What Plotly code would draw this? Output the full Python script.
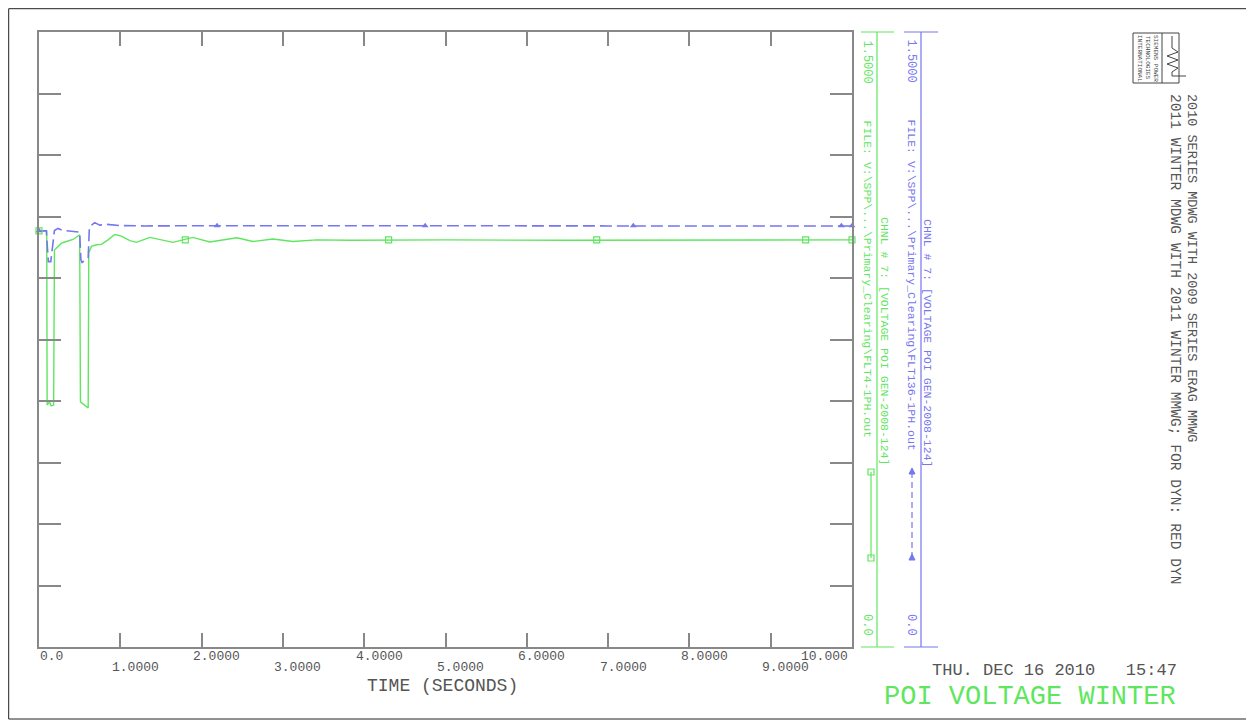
import plotly.graph_objects as go

# ---------------- data ----------------
time_flt4 = [0, 0.095, 0.100, 0.13, 0.15, 0.18, 0.19, 0.214, 0.276, 0.337, 0.419, 0.500, 0.505,
             0.510, 0.56, 0.605, 0.612, 0.645, 0.707, 0.768, 0.849, 0.932, 1.014, 1.117, 1.199,
             1.301, 1.363, 1.649, 1.769, 1.892, 2.101, 2.261, 2.434, 2.631, 2.877, 3.123, 3.418,
             3.824, 5.0, 6.5, 8.0, 10.0]
volt_flt4 = [1.015, 1.015, 0.590, 0.598, 0.588, 0.590, 0.968, 0.9725, 0.985, 0.989, 0.994, 1.005, 0.80,
             0.598, 0.590, 0.583, 0.961, 0.977, 0.981, 0.982, 0.993, 1.006, 1.002, 0.991, 0.987,
             0.994, 0.999, 0.987, 0.993, 0.999, 0.988, 0.993, 0.998, 0.989, 0.995, 0.989, 0.993,
             0.992, 0.993, 0.992, 0.993, 0.993]

time_flt136 = [0, 0.09, 0.115, 0.145, 0.19, 0.234, 0.295, 0.419, 0.500, 0.515, 0.53, 0.58, 0.605,
               0.62, 0.686, 0.747, 0.83, 0.99, 1.3, 2.0, 3.0, 5.0, 7.0, 10.0]
volt_flt136 = [1.015, 1.015, 0.940, 0.940, 1.016, 1.021, 1.016, 1.013, 1.012, 0.945, 0.938, 0.945, 0.950,
               1.025, 1.035, 1.029, 1.031, 1.028, 1.027, 1.0275, 1.027, 1.0275, 1.027, 1.027]

marker_t_flt4 = [0, 1.80, 4.30, 6.86, 9.43, 10.0]
marker_v_flt4 = [1.015, 0.993, 0.993, 0.993, 0.993, 0.993]
marker_t_flt136 = [0, 2.19, 4.75, 7.31, 9.87, 10.0]
marker_v_flt136 = [1.015, 1.0275, 1.0275, 1.0275, 1.0275, 1.0275]

x_tick_vals = [0, 1, 2, 3, 4, 5, 6, 7, 8, 9, 10]
x_tick_labels = ["0.0", "1.0000", "2.0000", "3.0000", "4.0000", "5.0000",
                 "6.0000", "7.0000", "8.0000", "9.0000", "10.000"]
y_tick_vals = [0, 0.15, 0.3, 0.45, 0.6, 0.75, 0.9, 1.05, 1.2, 1.35, 1.5]

file_flt4 = "FILE: V:\\SPP\\...\\Primary_Clearing\\FLT4-1PH.out"
file_flt136 = "FILE: V:\\SPP\\...\\Primary_Clearing\\FLT136-1PH.out"
chnl_label = "CHNL # 7: [VOLTAGE POI GEN-2008-124]"
axis_max_label = "1.5000"
axis_min_label = "0.0"
title_line1 = "2010 SERIES MDWG WITH 2009 SERIES ERAG MMWG"
title_line2 = "2011 WINTER MDWG WITH 2011 WINTER MMWG; FOR DYN: RED DYN"
logo_lines = ["SIEMENS POWER", "TECHNOLOGIES", "INTERNATIONAL"]
date_text = "THU. DEC 16 2010\u00a0\u00a0\u00a015:47"
plot_title = "POI VOLTAGE WINTER"
x_title = "TIME (SECONDS)"

# ---------------- style ----------------
GREEN = "#5fe65f"
BLUE = "#7676ee"
GRAY = "#888888"
TXT = "#555555"
FONT = "Liberation Mono"

OFF = 8                      # page body margin of the html page
W, H = 1254 - OFF, 724 - OFF
L, R, T, B = 39, 852, 32, 647   # plot area in screen pixels


def X(px):
    return (px - L) / (R - L)


def Y(py):
    return (B - py) / (B - T)


fig = go.Figure()

fig.add_trace(go.Scatter(x=time_flt4, y=volt_flt4, mode="lines",
                         line=dict(color=GREEN, width=1.4), showlegend=False))
fig.add_trace(go.Scatter(x=time_flt136, y=volt_flt136, mode="lines",
                         line=dict(color=BLUE, width=1.6, dash="12px,5px"), showlegend=False))
fig.add_trace(go.Scatter(x=marker_t_flt4, y=marker_v_flt4, mode="markers", cliponaxis=False,
                         marker=dict(symbol="square-open", size=6, color=GREEN, line=dict(width=1.2)),
                         showlegend=False))
fig.add_trace(go.Scatter(x=marker_t_flt136, y=marker_v_flt136, mode="markers", cliponaxis=False,
                         marker=dict(symbol="triangle-up", size=6, color=BLUE), showlegend=False))

shapes = []


def line(x0, y0, x1, y1, color, width=1.2, dash=None):
    d = dict(type="line", xref="paper", yref="paper", x0=X(x0), y0=Y(y0), x1=X(x1), y1=Y(y1),
             line=dict(color=color, width=width))
    if dash:
        d["line"]["dash"] = dash
    shapes.append(d)


# outer page frame
shapes.append(dict(type="rect", xref="paper", yref="paper", x0=X(8.7), y0=Y(8.7), x1=X(1249), y1=Y(719),
                   line=dict(color="#222222", width=1)))

# green secondary axis
line(877, T, 877, B, GREEN)
line(861, T, 894, T, GREEN)
line(861, B, 894, B, GREEN)
# blue secondary axis
line(921, T, 921, B, BLUE)
line(904, T, 938, T, BLUE)
line(904, B, 938, B, BLUE)

# legend samples
line(871, 472, 871, 558, GREEN)
for yy in (472, 558):
    shapes.append(dict(type="rect", xref="paper", yref="paper", x0=X(868), x1=X(874),
                       y0=Y(yy - 3), y1=Y(yy + 3), line=dict(color=GREEN, width=1.2)))
line(912, 472, 912, 558, BLUE, dash="6px,4px")
for yy in (472, 558):
    shapes.append(dict(type="path", xref="paper", yref="paper",
                       path=f"M {X(912)} {Y(yy-4)} L {X(915)} {Y(yy+2)} L {X(909)} {Y(yy+2)} Z",
                       fillcolor=BLUE, line=dict(color=BLUE, width=1)))

# logo
shapes.append(dict(type="rect", xref="paper", yref="paper", x0=X(1133), y0=Y(33), x1=X(1179), y1=Y(83),
                   line=dict(color="#444444", width=1)))
line(1162, 33, 1162, 83, "#444444", 1)
wave = [(1172, 36), (1172, 48), (1178, 52), (1167, 56), (1178, 60), (1167, 64), (1178, 68),
        (1172, 72), (1172, 76), (1186, 76)]
p = "M " + " L ".join(f"{X(a)} {Y(b)}" for a, b in wave)
shapes.append(dict(type="path", xref="paper", yref="paper", path=p, line=dict(color="#444444", width=1)))

ann = []


def text(t, px, py, size, color, angle=0, xanchor="center", yanchor="middle"):
    ann.append(dict(text=t, xref="paper", yref="paper", x=X(px), y=Y(py), showarrow=False,
                    textangle=angle, xanchor=xanchor, yanchor=yanchor,
                    font=dict(family=FONT, size=size, color=color)))


# x tick labels (staggered rows)
for v, lab in zip(x_tick_vals, x_tick_labels):
    row_y = 656 if v % 2 == 0 else 667
    if v == 0:
        xa, xs = "left", -1
    elif v == 10:
        xa, xs = "right", -2
    else:
        xa, xs = "center", 15
    ann.append(dict(text=lab, xref="x", yref="paper", x=v, y=Y(row_y), xanchor=xa,
                    yanchor="middle", showarrow=False, xshift=xs,
                    font=dict(family=FONT, size=13, color=TXT)))

text(x_title, 442, 686, 18, TXT)

# right side axis texts
text(axis_max_label, 867, 38, 12, GREEN, 90, yanchor="top")
text(axis_max_label, 911, 38, 12, BLUE, 90, yanchor="top")
text(axis_min_label, 867, 638, 12, GREEN, 90, yanchor="bottom")
text(axis_min_label, 911, 638, 12, BLUE, 90, yanchor="bottom")
text(file_flt4, 867, 118, 11.5, GREEN, 90, yanchor="top")
text(chnl_label, 885, 215, 11.5, GREEN, 90, yanchor="top")
text(file_flt136, 911, 118, 11.5, BLUE, 90, yanchor="top")
text(chnl_label, 928, 217, 11.5, BLUE, 90, yanchor="top")

# titles
text(title_line1, 1192, 92, 13.5, TXT, 90, yanchor="top")
text(title_line2, 1175, 92, 14.6, TXT, 90, yanchor="top")
for k, s in enumerate(logo_lines):
    text(s, 1155 - 8 * k, 58, 6, "#444444", 90)

text(date_text, 1054, 670, 17, TXT)
text(plot_title, 1030, 697, 27, GREEN)

fig.update_layout(
    width=W, height=H,
    margin=dict(l=L - OFF, r=W - (R - OFF), t=T - OFF, b=H - (B - OFF), pad=0),
    paper_bgcolor="white", plot_bgcolor="white",
    shapes=shapes, annotations=ann,
    xaxis=dict(range=[0, 10], tickvals=x_tick_vals, showticklabels=False, ticks="inside",
               ticklen=14, tickwidth=1.5, tickcolor=GRAY, showline=True, linecolor=GRAY,
               linewidth=1.5, mirror="ticks", showgrid=False, zeroline=False),
    yaxis=dict(range=[0, 1.5], tickvals=y_tick_vals, showticklabels=False, ticks="inside",
               ticklen=22, tickwidth=1.5, tickcolor=GRAY, showline=True, linecolor=GRAY,
               linewidth=1.5, mirror="ticks", showgrid=False, zeroline=False),
)

fig.write_html("out.html")
